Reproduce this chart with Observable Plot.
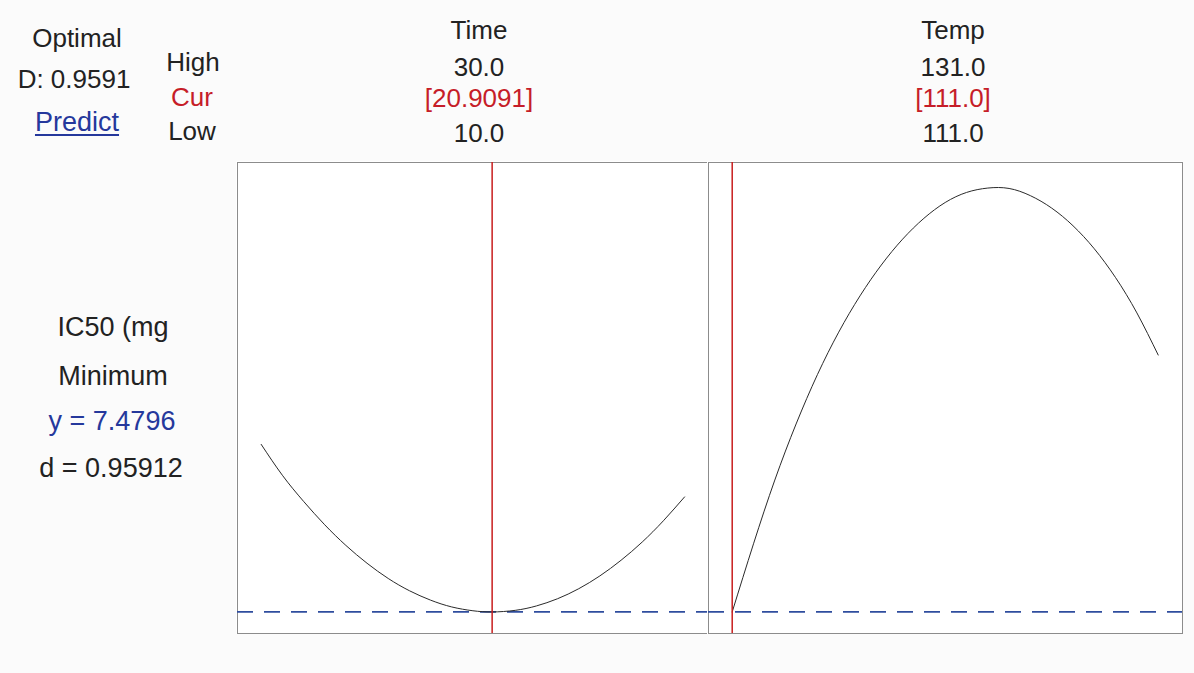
<!DOCTYPE html>
<html>
<head>
<meta charset="utf-8">
<script src="https://cdn.jsdelivr.net/npm/d3@7"></script>
<script src="https://cdn.jsdelivr.net/npm/@observablehq/plot@0.6"></script>
<style>
  html, body { margin: 0; padding: 0; background: #ffffff; }
  #root { position: relative; width: 1194px; height: 673px; overflow: hidden; background: #fbfbfb;
          font-family: "Liberation Sans", Arial, sans-serif; color: #222; }
  .t { position: absolute; white-space: nowrap; line-height: 1; transform: translateX(-50%); }
  .red { color: #c61d28; }
  .blue { color: #25389c; }
  .panel { position: absolute; }
</style>
</head>
<body>
<div id="root"></div>
<script>
// ---- data ----
const factors = ["Time", "Temp"];
const highVals = [30.0, 131.0];
const lowVals = [10.0, 111.0];
const curVals = [20.9091, 111.0];
const curLabels = ["[20.9091]", "[111.0]"];
const compositeD = "0.9591";
const responseName = "IC50 (mg";
const goal = "Minimum";
const predictedY = 7.4796;
const desirability = "0.95912";

// response trace vs Time (Temp held at 111.0)
const timeX = [10, 11, 12, 13, 14, 15, 16, 17, 18, 19, 20, 20.9091, 22, 23, 24, 25, 26, 27, 28, 29, 30];
const timeY = [15.84, 14.30, 13.00, 11.83, 10.80, 9.91, 9.15, 8.54, 8.07, 7.73, 7.54, 7.4796, 7.56, 7.78, 8.14, 8.64, 9.28, 10.06, 10.97, 12.03, 13.22];

// response trace vs Temp (Time held at 20.9091)
const tempX = [111, 112, 113, 114, 115, 116, 117, 118, 119, 120, 121, 122, 123, 124, 125, 126, 127, 128, 129, 130, 131];
const tempY = [7.4796, 10.88, 14.06, 16.86, 19.32, 21.44, 23.25, 24.79, 26.08, 27.12, 27.91, 28.41, 28.63, 28.61, 28.25, 27.63, 26.75, 25.60, 24.16, 22.40, 20.30];

const yDomain = [6.405, 29.905];
const xDomains = [[8.88, 31.13], [109.887, 132.141]];

// ---- layout ----
const root = document.getElementById("root");
function label(text, cx, baseline, size, cls, extra) {
  const d = document.createElement("div");
  d.className = "t" + (cls ? " " + cls : "");
  d.textContent = text;
  d.style.fontSize = size + "px";
  d.style.left = cx + "px";
  d.style.top = (baseline - 0.846 * size) + "px";
  if (extra) Object.assign(d.style, extra);
  root.appendChild(d);
}

const fs = 26;
label("Optimal", 77, 47, fs);
label("D: " + compositeD, 74, 88, fs);
label("Predict", 77, 132, 27, "blue", {textDecoration: "underline", textUnderlineOffset: "3px"});
label("High", 193, 71, fs);
label("Cur", 192, 106, fs, "red");
label("Low", 192, 140, fs);

const colCenters = [479, 953];
factors.forEach((f, i) => {
  label(f, colCenters[i], 39, fs);
  label(highVals[i].toFixed(1), colCenters[i], 76, fs);
  label(curLabels[i], colCenters[i], 107, fs, "red");
  label(lowVals[i].toFixed(1), colCenters[i], 142, fs);
});

const fs2 = 27;
label(responseName, 113, 337, fs2);
label(goal, 113, 386, fs2);
label("y = " + predictedY.toFixed(4), 112, 431, fs2, "blue");
label("d = " + desirability, 111, 478, fs2);

// ---- panels ----
const traces = [
  timeX.map((x, i) => ({x, y: timeY[i]})),
  tempX.map((x, i) => ({x, y: tempY[i]}))
];
const panelBoxes = [
  {left: 236, top: 161, width: 473},
  {left: 707, top: 161, width: 476}
];

factors.forEach((f, i) => {
  const chart = Plot.plot({
    width: panelBoxes[i].width,
    height: 473,
    margin: 1,
    style: {background: "#ffffff", overflow: "visible"},
    x: {domain: xDomains[i], axis: null},
    y: {domain: yDomain, axis: null},
    marks: [
      Plot.frame({stroke: "#8c8c8c", strokeWidth: 1}),
      Plot.ruleY([predictedY], {stroke: "#2f4d9e", strokeWidth: 1.8, strokeDasharray: "16,11"}),
      Plot.line(traces[i], {x: "x", y: "y", curve: "natural", stroke: "#2a2a2a", strokeWidth: 1}),
      Plot.ruleX([curVals[i]], {stroke: "#c81e1e", strokeWidth: 1.5})
    ]
  });
  chart.classList.add("panel");
  chart.style.left = panelBoxes[i].left + "px";
  chart.style.top = panelBoxes[i].top + "px";
  root.appendChild(chart);
});
</script>
</body>
</html>
